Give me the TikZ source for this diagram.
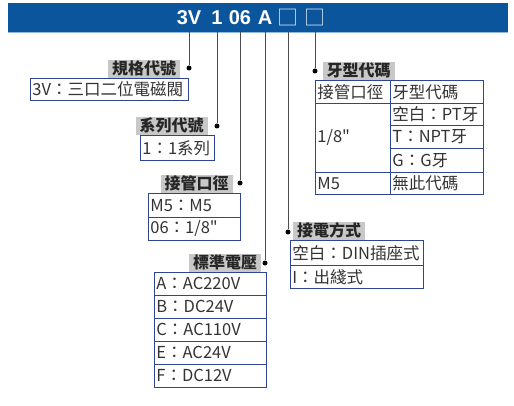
\documentclass[tikz,border=0pt]{standalone}
\usepackage{fontspec}
\setmainfont{Noto Sans CJK TC}
\newfontfamily\headfont{Liberation Sans}
\newfontfamily\rawfont{Noto Sans CJK TC}
\usetikzlibrary{positioning}

\definecolor{bandblue}{HTML}{0A559C}
\definecolor{bandline}{HTML}{8FB8DC}
\definecolor{boxblue}{HTML}{2E4593}
\definecolor{tagbg}{HTML}{C8C8C8}
\definecolor{txtgray}{HTML}{333333}

\newcommand{\inch}{{\rawfont"}}

\begin{document}
\begin{tikzpicture}[
  x=1pt, y=-1pt,
  every node/.style={text=txtgray},
  head/.style={font=\headfont\bfseries\fontsize{20}{20}\selectfont, text=white, inner sep=0pt, minimum height=29pt, anchor=north},
  box/.style={head, font=\fontsize{21}{21}\selectfont, text=white!85!bandblue},
  tag/.style={fill=tagbg, font=\bfseries\fontsize{16}{16}\selectfont, text=black!85, inner xsep=4pt, inner ysep=1pt, minimum height=18pt, anchor=south},
  cell/.style={draw=boxblue, line width=0.8pt, anchor=north west, minimum height=23pt, inner xsep=2pt, inner ysep=0pt, align=left, text width=#1, font=\fontsize{16.5}{16.5}\selectfont},
  dot/.style={circle, fill=black, inner sep=0pt, minimum size=5pt},
  lead/.style={draw=black!70, line width=0.7pt}
]
\useasboundingbox (0,0) rectangle (514,406);

% Model code band
\fill[bandblue] (8,3) rectangle (508,32);
\draw[bandline, line width=0.8pt] (8,32.6) -- (508,32.6);
\node[head] (h3v) at (189,3) {3V};
\node[head] (h1) at (217,3) {1};
\node[head] (h06) at (240,3) {06};
\node[head] (hA) at (265,3) {A};
\node[box] (hp1) at (288,3) {□};
\node[box] (hp2) at (315,3) {□};

% Dots
\node[dot] (d1) at (189,68) {};
\node[dot] (d2) at (217,126) {};
\node[dot] (d3) at (240,183) {};
\node[dot] (d4) at (265,263) {};
\node[dot] (d5) at (288,232) {};
\node[dot] (d6) at (315,71) {};

% Tags
\node[tag] (spec) at (144,78) {規格代號};
\node[tag] (series) at (171.5,135) {系列代號};
\node[tag] (port) at (196.5,193) {接管口徑};
\node[tag] (volt) at (225,272) {標準電壓};
\node[tag] (wire) at (329,240) {接電方式};
\node[tag] (thread) at (358.5,80) {牙型代碼};

% Boxes
\node[cell=154, minimum height=22pt] (spec1) at (30,78) {3V：三口二位電磁閥};
\node[cell=70, minimum height=25pt] (series1) at (140,135) {1：1系列};
\node[cell=88, minimum height=24pt] (port1) at (148,193) {M5：M5};
\node[cell=88] (port2) at (148,217) {06：1/8\inch};

\node[cell=108] (volt1) at (154,272) {A：AC220V};
\node[cell=108] (volt2) at (154,295) {B：DC24V};
\node[cell=108] (volt3) at (154,318) {C：AC110V};
\node[cell=108] (volt4) at (154,341) {E：AC24V};
\node[cell=108] (volt5) at (154,364) {F：DC12V};

\node[cell=129, minimum height=25pt] (wire1) at (290,240) {空白：DIN插座式};
\node[cell=129] (wire2) at (290,265) {I：出綫式};

% Thread table
\node[cell=71] (tport) at (315,80) {接管口徑};
\node[cell=89] (tcode) at (390,80) {牙型代碼};
\node[cell=71, minimum height=69pt] (teighth) at (315,103) {1/8\inch};
\node[cell=89, minimum height=22pt] (tpt) at (390,103) {空白：PT牙};
\node[cell=89] (tnpt) at (390,125) {T：NPT牙};
\node[cell=89, minimum height=24pt] (tg) at (390,148) {G：G牙};
\node[cell=71, minimum height=22pt] (tmfive) at (315,172) {M5};
\node[cell=89, minimum height=22pt] (tnone) at (390,172) {無此代碼};

% Leads
\draw[lead] (h3v.south) -- (d1);
\draw[lead] (h1.south) -- (d2);
\draw[lead] (h06.south) -- (d3);
\draw[lead] (hA.south) -- (d4);
\draw[lead] (hp1.south) -- (d5);
\draw[lead] (hp2.south) -- (d6);
\end{tikzpicture}
\end{document}
